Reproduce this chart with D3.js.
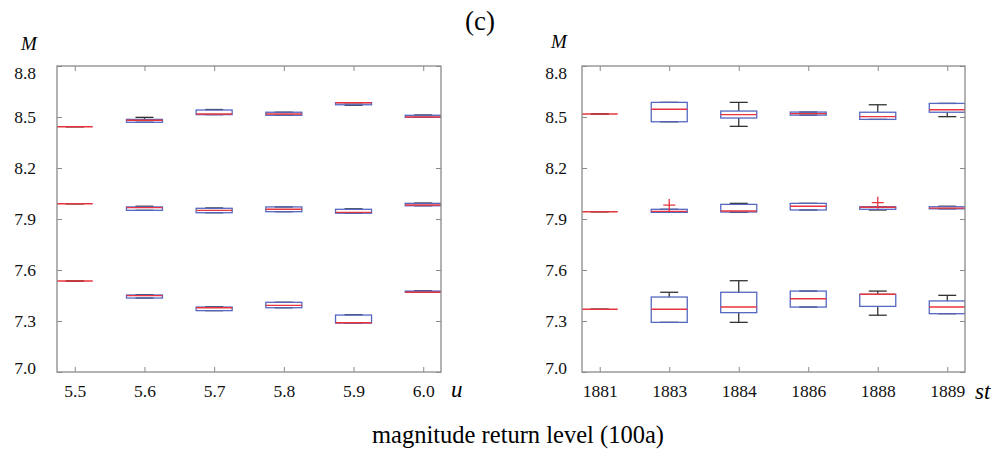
<script src="https://d3js.org/d3.v7.min.js"></script>
<style>
    body { background: #fff; margin: 0; }
    svg { display: block; }
</style>
<svg width="995" height="452"></svg>
<script>
    // y axis (M)
    const yTicks = [7.0, 7.3, 7.6, 7.9, 8.2, 8.5, 8.8];

    // left panel: threshold u
    const uCats = ["5.5", "5.6", "5.7", "5.8", "5.9", "6.0"];
    // each box: [min, q1, median, q3, max], three levels per category
    const uTop = [
        [8.443, 8.443, 8.443, 8.443, 8.443],
        [8.469, 8.469, 8.481, 8.486, 8.498],
        [8.514, 8.514, 8.518, 8.541, 8.544],
        [8.510, 8.510, 8.518, 8.528, 8.528],
        [8.569, 8.572, 8.584, 8.584, 8.584],
        [8.498, 8.498, 8.500, 8.510, 8.512]
    ];
    const uMid = [
        [7.990, 7.990, 7.990, 7.990, 7.990],
        [7.951, 7.951, 7.967, 7.971, 7.975],
        [7.937, 7.937, 7.951, 7.963, 7.965],
        [7.943, 7.943, 7.957, 7.971, 7.971],
        [7.934, 7.934, 7.939, 7.957, 7.960],
        [7.978, 7.978, 7.982, 7.992, 7.994]
    ];
    const uBot = [
        [7.535, 7.535, 7.535, 7.535, 7.535],
        [7.435, 7.435, 7.449, 7.453, 7.455],
        [7.361, 7.361, 7.378, 7.382, 7.384],
        [7.378, 7.378, 7.392, 7.410, 7.410],
        [7.288, 7.288, 7.290, 7.335, 7.337],
        [7.469, 7.469, 7.469, 7.476, 7.478]
    ];

    // right panel: start year st
    const stCats = ["1881", "1883", "1884", "1886", "1888", "1889"];
    const stTop = [
        [8.518, 8.518, 8.518, 8.518, 8.518],
        [8.472, 8.472, 8.546, 8.586, 8.586],
        [8.445, 8.494, 8.514, 8.535, 8.586],
        [8.511, 8.511, 8.520, 8.529, 8.529],
        [8.486, 8.486, 8.502, 8.528, 8.572],
        [8.502, 8.528, 8.543, 8.580, 8.580]
    ];
    const stMid = [
        [7.943, 7.943, 7.943, 7.943, 7.943],
        [7.939, 7.939, 7.945, 7.957, 7.957],
        [7.939, 7.941, 7.947, 7.986, 7.992],
        [7.953, 7.953, 7.975, 7.992, 7.992],
        [7.953, 7.957, 7.969, 7.972, 7.972],
        [7.960, 7.960, 7.964, 7.972, 7.975]
    ];
    const stBot = [
        [7.369, 7.369, 7.369, 7.369, 7.369],
        [7.292, 7.292, 7.369, 7.441, 7.469],
        [7.292, 7.349, 7.382, 7.469, 7.537],
        [7.382, 7.382, 7.431, 7.476, 7.476],
        [7.334, 7.386, 7.457, 7.457, 7.476],
        [7.343, 7.343, 7.382, 7.418, 7.451]
    ];
    // outliers: [category, value]
    const stOutliers = [["1883", 7.982], ["1888", 7.996]];

    const svg = d3.select("svg");
    const serif = '"Liberation Serif", "Times New Roman", serif';
    const plotTop = 66, plotBottom = 372;
    const frameColor = "#8a8a8a", boxColor = "#5468c0", medColor = "#e8343e", whiskColor = "#333";

    function panel(id, cats, groups, outliers, x0, x1, labPad, xName, xNamePos, mPos) {
        const x = d3.scalePoint().domain(cats).range([x0, x1]).padding(0.255);
        const y = d3.scaleLinear().domain([7.0, 8.8]).range([plotBottom, plotTop]);
        const g = svg.append("g");
        const bw = 36, cw = 18;

        // axes, ticks point inward
        const ax = [
            g.append("g").attr("transform", `translate(0,${plotBottom})`)
                .call(d3.axisBottom(x).tickSize(-5).tickPadding(13)),
            g.append("g").attr("transform", `translate(0,${plotTop})`)
                .call(d3.axisTop(x).tickSize(-5).tickFormat("")),
            g.append("g").attr("transform", `translate(${x0},0)`)
                .call(d3.axisLeft(y).tickValues(yTicks).tickFormat(d3.format(".1f")).tickSize(-5).tickPadding(labPad)),
            g.append("g").attr("transform", `translate(${x1},0)`)
                .call(d3.axisRight(y).tickValues(yTicks).tickSize(-5).tickFormat(""))
        ];
        ax.forEach(a => {
            a.select(".domain").remove();
            a.attr("font-family", null);
            a.selectAll("line").attr("stroke", frameColor);
            a.selectAll("text").attr("fill", "#111")
                .style("font-family", serif).style("font-size", "17.5px");
        });
        // keep end labels inside the frame height, like the original
        ax[2].selectAll("text").attr("dy", d => d === 8.8 ? "0.7em" : d === 7.0 ? "0.1em" : "0.32em");

        g.append("clipPath").attr("id", id).append("rect")
            .attr("x", x0).attr("y", plotTop).attr("width", x1 - x0).attr("height", plotBottom - plotTop);
        const plot = g.append("g").attr("clip-path", `url(#${id})`);

        const boxes = [];
        groups.forEach(arr => arr.forEach((b, i) => boxes.push({ c: cats[i], v: b })));

        const bx = plot.selectAll("g.box").data(boxes).enter().append("g");
        const seg = (a, b, c, d) => bx.append("line")
            .attr("x1", a).attr("x2", b).attr("y1", c).attr("y2", d)
            .attr("stroke", whiskColor).attr("stroke-width", 1.3);
        // whiskers
        seg(d => x(d.c), d => x(d.c), d => y(d.v[3]), d => y(d.v[4]));
        seg(d => x(d.c), d => x(d.c), d => y(d.v[1]), d => y(d.v[0]));
        seg(d => x(d.c) - cw / 2, d => x(d.c) + cw / 2, d => y(d.v[4]), d => y(d.v[4]));
        seg(d => x(d.c) - cw / 2, d => x(d.c) + cw / 2, d => y(d.v[0]), d => y(d.v[0]));
        // box
        bx.append("rect")
            .attr("x", d => x(d.c) - bw / 2).attr("width", bw)
            .attr("y", d => y(d.v[3])).attr("height", d => y(d.v[1]) - y(d.v[3]))
            .attr("fill", "none").attr("stroke", boxColor).attr("stroke-width", 1.3);
        // median
        bx.append("line")
            .attr("x1", d => x(d.c) - bw / 2).attr("x2", d => x(d.c) + bw / 2)
            .attr("y1", d => y(d.v[2])).attr("y2", d => y(d.v[2]))
            .attr("stroke", medColor).attr("stroke-width", 1.4);

        // outliers as "+"
        plot.selectAll("path.out").data(outliers).enter().append("path")
            .attr("d", d => `M${x(d[0]) - 6},${y(d[1])}H${x(d[0]) + 6}M${x(d[0])},${y(d[1]) - 6}V${y(d[1]) + 6}`)
            .attr("fill", "none").attr("stroke", medColor).attr("stroke-width", 1.3);

        // frame
        g.append("rect").attr("x", x0).attr("y", plotTop).attr("width", x1 - x0).attr("height", plotBottom - plotTop)
            .attr("fill", "none").attr("stroke", frameColor).attr("stroke-width", 1.3);

        g.append("text").attr("x", mPos[0]).attr("y", mPos[1]).attr("text-anchor", "middle")
            .style("font-family", serif).style("font-style", "italic").style("font-size", "19px").text("M");
        g.append("text").attr("x", xNamePos[0]).attr("y", xNamePos[1])
            .style("font-family", serif).style("font-style", "italic").style("font-size", "23px").text(xName);
    }

    panel("clipU", uCats, [uTop, uMid, uBot], [], 57, 441, 21, "u", [451, 397], [29, 50]);
    panel("clipS", stCats, [stTop, stMid, stBot], stOutliers, 582, 965, 15, "st", [975, 399], [559, 48]);

    svg.append("text").attr("x", 480).attr("y", 30).attr("text-anchor", "middle")
        .style("font-family", serif).style("font-size", "27px").text("(c)");
    svg.append("text").attr("x", 518).attr("y", 443).attr("text-anchor", "middle")
        .style("font-family", serif).style("font-size", "24.5px").text("magnitude return level (100a)");
</script>
